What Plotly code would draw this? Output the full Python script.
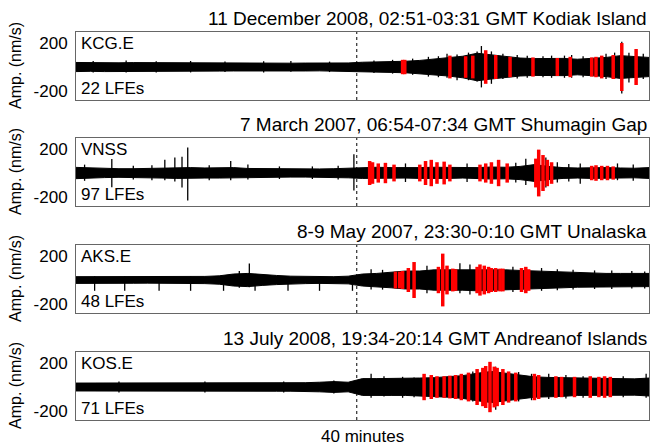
import plotly.graph_objects as go

# ---------------- data ----------------
T_MIN = list(range(41))           # envelope sample times, minutes
DASH_T = 19.6                      # dotted marker time, minutes

STATIONS = ["KCG.E", "VNSS", "AKS.E", "KOS.E"]
LFE_LABELS = ["22 LFEs", "97 LFEs", "48 LFEs", "71 LFEs"]
TITLES = [
    "11 December 2008, 02:51-03:31 GMT Kodiak Island",
    "7 March 2007, 06:54-07:34 GMT Shumagin Gap",
    "8-9 May 2007, 23:30-0:10 GMT Unalaska",
    "13 July 2008, 19:34-20:14 GMT Andreanof Islands",
]

# half-amplitude envelopes (nm/s), one value per minute
KCG_ENV = [38, 36, 38, 35, 37, 36, 35, 34, 36, 35, 34, 33, 35, 34, 33, 32, 33, 32, 33, 34,
           40, 42, 45, 48, 55, 65, 75, 90, 115, 100, 85, 75, 70, 70, 72, 65, 70, 80, 95, 90, 80]
VNSS_ENV = [47, 42, 38, 36, 36, 38, 42, 45, 45, 42, 42, 45, 38, 36, 36, 34, 34, 34, 36, 40,
            45, 48, 45, 42, 45, 48, 45, 42, 45, 50, 48, 55, 70, 55, 45, 42, 45, 45, 42, 40, 45]
AKS_ENV = [28, 28, 26, 27, 27, 26, 26, 27, 28, 30, 35, 50, 55, 45, 38, 32, 30, 28, 28, 32,
           50, 55, 65, 75, 75, 85, 85, 85, 90, 85, 85, 80, 75, 70, 65, 60, 60, 55, 55, 55, 55]
KOS_ENV = [33, 33, 32, 33, 32, 33, 32, 32, 33, 33, 33, 34, 33, 35, 35, 35, 36, 40, 45, 40,
           70, 70, 70, 70, 75, 78, 85, 95, 115, 130, 115, 100, 85, 80, 78, 70, 70, 70, 68, 68, 75]

# isolated spikes: time (min), peak up (nm/s), peak down (nm/s)
KCG_SPK_T = [1.2, 3.5, 5.6, 8.0, 10.4, 13.1, 15.0, 17.7, 20.8, 22.1, 23.5, 24.6, 25.3, 25.9,
             26.6, 27.4, 28.0, 28.3, 29.0, 29.8, 30.8, 31.5, 32.6, 33.2, 34.1, 34.6, 35.4,
             37.0, 37.6, 38.1, 38.6, 39.1, 39.6]
KCG_SPK_UP = [50, 55, 48, 50, 45, 48, 50, 45, 55, 60, 70, 85, 90, 110, 105, 120, 130, 175,
              130, 110, 100, 95, 90, 95, 95, 100, 90, 110, 120, 210, 120, 150, 110]
KCG_SPK_DN = [45, 45, 45, 45, 42, 45, 40, 42, 50, 55, 65, 80, 85, 90, 110, 110, 120, 170,
              140, 100, 95, 90, 85, 90, 90, 90, 85, 100, 100, 220, 130, 140, 100]

VNSS_SPK_T = [0.6, 2.5, 4.0, 5.3, 6.2, 6.9, 7.4, 7.8, 9.3, 10.8, 12.0, 14.2, 16.5, 18.3,
              19.4, 23.0, 27.3, 30.7, 31.4, 32.8, 33.6, 34.4, 35.2, 37.8, 38.9]
VNSS_SPK_UP = [70, 116, 60, 65, 110, 130, 135, 212, 65, 100, 70, 55, 55, 60, 157, 80, 80,
               85, 120, 130, 90, 75, 80, 80, 70]
VNSS_SPK_DN = [65, 118, 55, 60, 60, 70, 120, 230, 60, 60, 55, 50, 50, 55, 146, 75, 75, 80,
               100, 120, 80, 70, 90, 60, 65]

AKS_SPK_T = [1.3, 3.4, 5.8, 8.0, 10.3, 11.4, 12.1, 12.5, 14.8, 17.0, 19.3, 20.6, 21.4, 24.5,
             26.8, 27.5, 30.5, 32.5, 33.6, 34.7, 36.2, 37.4, 38.8, 39.7]
AKS_SPK_UP = [30, 30, 30, 30, 30, 75, 138, 30, 30, 30, 30, 90, 85, 120, 140, 130, 110, 100,
              90, 85, 80, 80, 75, 70]
AKS_SPK_DN = [90, 90, 90, 90, 90, 65, 60, 90, 90, 90, 90, 80, 80, 110, 110, 120, 100, 90,
              85, 80, 75, 75, 70, 70]

KOS_SPK_T = [3.0, 9.0, 14.5, 18.0, 20.6, 21.5, 22.8, 23.6, 27.7, 28.9, 29.3, 30.9, 31.8,
             33.0, 34.2, 35.4, 38.2, 39.8]
KOS_SPK_UP = [45, 45, 45, 55, 110, 90, 85, 80, 130, 200, 170, 125, 110, 110, 100, 90, 90, 110]
KOS_SPK_DN = [45, 45, 45, 55, 90, 80, 90, 85, 120, 160, 190, 120, 110, 100, 95, 90, 85, 90]

# detected LFE windows: centre time (min) and half-amplitude (nm/s)
KCG_LFE_T = [22.8, 22.95, 26.1, 27.2, 27.7, 28.6, 29.3, 30.3, 31.9, 33.6, 34.5, 36.0, 36.3,
             36.7, 37.5, 38.1, 39.1]
KCG_LFE_A = [60, 60, 95, 90, 95, 140, 100, 85, 80, 75, 85, 80, 85, 95, 100, 200, 150]

VNSS_LFE_T = [20.5, 20.7, 21.1, 21.6, 22.2, 24.0, 24.4, 24.8, 25.2, 25.7, 26.1, 28.2, 28.6, 29.0,
              29.5, 30.1, 32.1, 32.3, 32.6, 32.9, 33.2, 36.0, 36.3, 36.7, 37.1, 37.5]
VNSS_LFE_A = [100, 90, 80, 85, 70, 70, 100, 110, 90, 95, 70, 70, 80, 90, 110, 80, 120, 195, 150,
              110, 90, 60, 65, 60, 60, 55]

AKS_LFE_T = [22.3, 22.6, 22.8, 23.2, 23.6, 25.3, 25.6, 25.9, 26.3, 26.5, 28.0, 28.2, 28.5, 28.8,
             29.0, 29.3, 29.6, 29.8, 31.1, 31.4, 31.6]
AKS_LFE_A = [70, 70, 75, 100, 150, 110, 220, 120, 95, 90, 110, 130, 120, 110, 100, 100, 95, 95,
             100, 110, 90]

KOS_LFE_T = [24.3, 24.8, 25.2, 25.7, 26.1, 26.5, 26.9, 27.4, 28.0, 28.4, 28.6, 28.9, 29.2, 29.4,
             29.8, 30.2, 30.7, 32.0, 32.3, 33.5, 33.9, 34.8, 35.9, 36.5, 36.9, 37.3]
KOS_LFE_A = [110, 100, 90, 90, 95, 100, 110, 120, 150, 160, 175, 210, 170, 160, 150, 130, 120,
             110, 100, 90, 85, 85, 90, 85, 90, 85]

ENVS = [KCG_ENV, VNSS_ENV, AKS_ENV, KOS_ENV]
SPK = [(KCG_SPK_T, KCG_SPK_UP, KCG_SPK_DN), (VNSS_SPK_T, VNSS_SPK_UP, VNSS_SPK_DN),
       (AKS_SPK_T, AKS_SPK_UP, AKS_SPK_DN), (KOS_SPK_T, KOS_SPK_UP, KOS_SPK_DN)]
LFE = [(KCG_LFE_T, KCG_LFE_A), (VNSS_LFE_T, VNSS_LFE_A), (AKS_LFE_T, AKS_LFE_A), (KOS_LFE_T, KOS_LFE_A)]

Y_TICKS = [200, -200]

# ---------------- layout geometry ----------------
W, H = 662, 447
X0, X1 = 76, 649
PANEL_TOPS = [32, 138, 245, 352]
PANEL_H = 68
FONT = "Liberation Sans, Arial, Helvetica, sans-serif"

fig = go.Figure()
annotations = []
shapes = []

for i in range(4):
    xa = "x" if i == 0 else f"x{i+1}"
    ya = "y" if i == 0 else f"y{i+1}"
    env = ENVS[i]
    # envelope polygon
    px = T_MIN + T_MIN[::-1]
    py = env + [-v for v in env[::-1]]
    fig.add_trace(go.Scatter(x=px, y=py, mode="lines", fill="toself", fillcolor="black",
                             line=dict(color="black", width=1), xaxis=xa, yaxis=ya,
                             hoverinfo="skip", showlegend=False))
    # spikes
    st, su, sd = SPK[i]
    sx, sy = [], []
    for t, u, d in zip(st, su, sd):
        sx += [t, t, None]
        sy += [u, -d, None]
    fig.add_trace(go.Scatter(x=sx, y=sy, mode="lines", line=dict(color="black", width=1.3),
                             xaxis=xa, yaxis=ya, hoverinfo="skip", showlegend=False))
    # LFE windows (red)
    lt, la = LFE[i]
    rx, ry = [], []
    for t, a in zip(lt, la):
        rx += [t, t, None]
        ry += [a, -a, None]
    fig.add_trace(go.Scatter(x=rx, y=ry, mode="lines", line=dict(color="#ff0000", width=3.5),
                             xaxis=xa, yaxis=ya, hoverinfo="skip", showlegend=False))

    top = PANEL_TOPS[i]
    y_lo = 1 - (top + PANEL_H) / H
    y_hi = 1 - top / H
    ax_common = dict(showgrid=False, zeroline=False, showline=True, mirror=True,
                     linecolor="#666666", linewidth=1)
    fig.update_layout(**{
        ("xaxis" if i == 0 else f"xaxis{i+1}"): dict(
            domain=[X0 / W, X1 / W], range=[0, 40], showticklabels=False, ticks="",
            anchor=ya, **ax_common),
        ("yaxis" if i == 0 else f"yaxis{i+1}"): dict(
            domain=[y_lo, y_hi], range=[-275, 292], tickvals=Y_TICKS,
            ticktext=[str(v) for v in Y_TICKS], ticks="", ticklabelstandoff=4,
            tickfont=dict(size=17, color="black", family=FONT), anchor=xa, **ax_common),
    })
    # dotted marker
    shapes.append(dict(type="line", xref=xa, yref=f"{ya} domain", x0=DASH_T, x1=DASH_T,
                       y0=0, y1=1, line=dict(color="black", width=1, dash="dot")))
    # title
    annotations.append(dict(text=TITLES[i], xref="paper", yref="paper", x=X1 / W,
                            y=y_hi + 1 / H, xanchor="right", yanchor="bottom", showarrow=False,
                            font=dict(size=19, color="black", family=FONT)))
    annotations.append(dict(text=STATIONS[i], xref="paper", yref="paper", x=(X0 + 3) / W,
                            y=y_hi, xanchor="left", yanchor="top", showarrow=False,
                            font=dict(size=17, color="black", family=FONT)))
    annotations.append(dict(text=LFE_LABELS[i], xref="paper", yref="paper", x=(X0 + 3) / W,
                            y=y_lo, xanchor="left", yanchor="bottom", showarrow=False,
                            font=dict(size=17, color="black", family=FONT)))
    annotations.append(dict(text="Amp. (nm/s)", xref="paper", yref="paper", x=15 / W,
                            y=(y_lo + y_hi) / 2, xanchor="center", yanchor="middle",
                            textangle=-90, showarrow=False,
                            font=dict(size=16, color="black", family=FONT)))

annotations.append(dict(text="40 minutes", xref="paper", yref="paper", x=(X0 + X1) / 2 / W,
                        y=1 - 436 / H, xanchor="center", yanchor="middle", showarrow=False,
                        font=dict(size=17, color="black", family=FONT)))

fig.update_layout(width=W, height=H, margin=dict(l=0, r=0, t=0, b=0),
                  paper_bgcolor="white", plot_bgcolor="white",
                  annotations=annotations, shapes=shapes, showlegend=False,
                  font=dict(family=FONT, color="black"))

fig.write_html("out.html", config={"displayModeBar": False},
               post_script="document.body.style.margin='0px';")
